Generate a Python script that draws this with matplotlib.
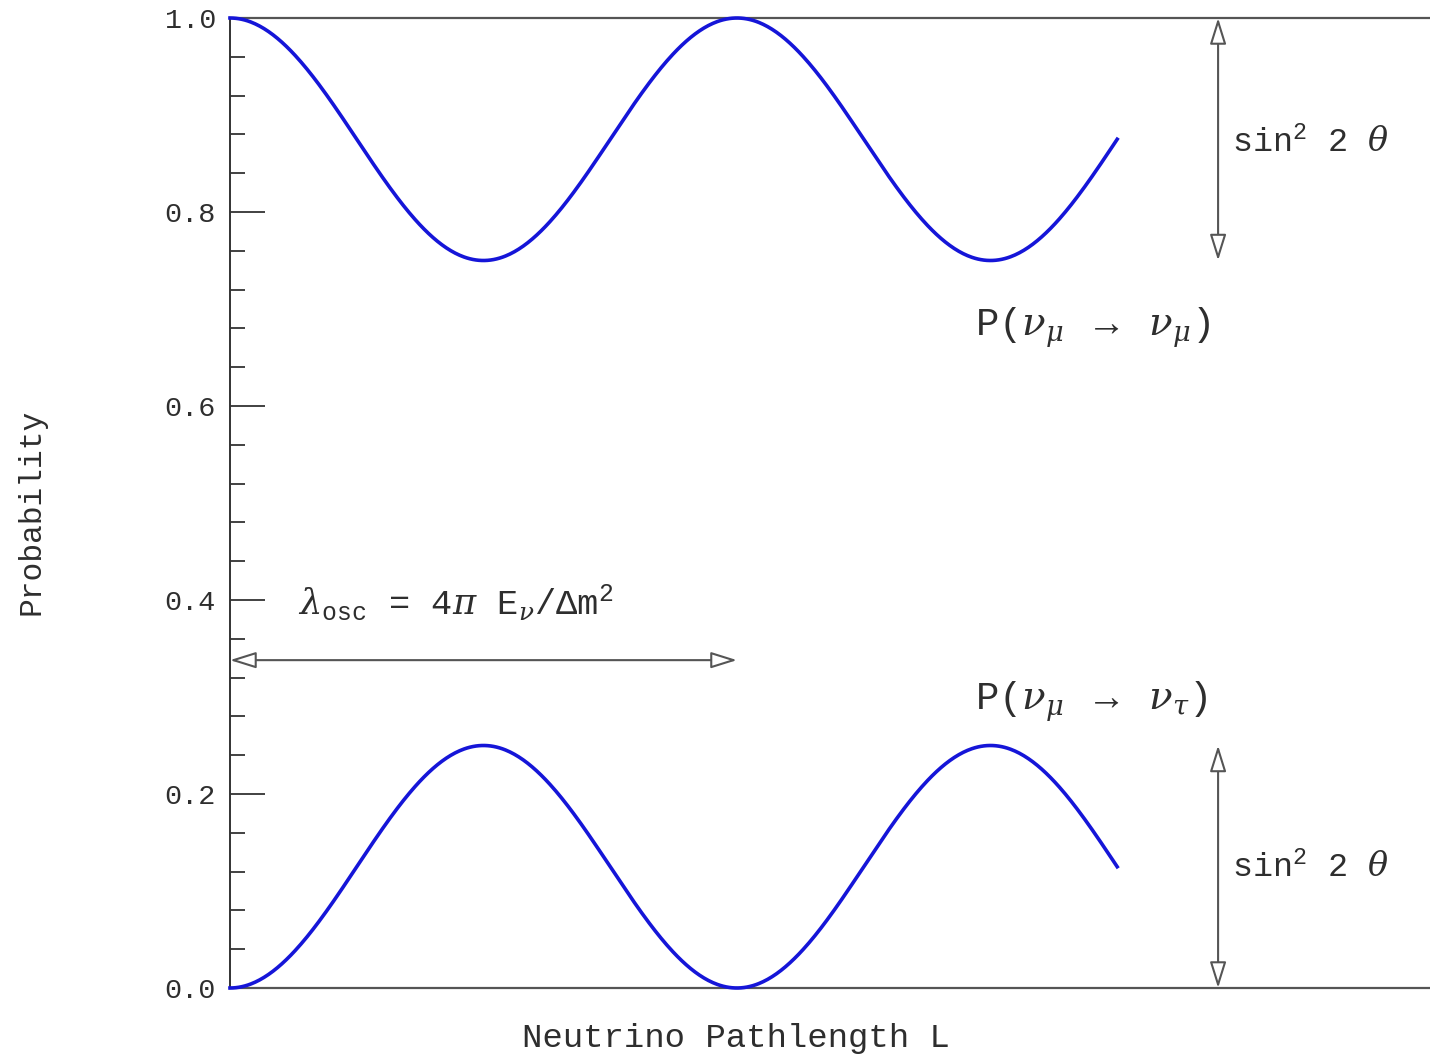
import numpy as np
import matplotlib.pyplot as plt
from matplotlib.ticker import MultipleLocator

# values
sin2_2theta = 0.25          # oscillation amplitude
lambda_osc = 1.0            # one oscillation length (x unit)
L_end = 1.75                # curves stop at 1.75 oscillation lengths
x_max = 2.367               # visible x range, in oscillation lengths
y_ticks = [0.0, 0.2, 0.4, 0.6, 0.8, 1.0]
y_tick_labels = ['0.0', '0.2', '0.4', '0.6', '0.8', '1.0']
arrow_x = 1.949             # x of the two vertical sin^2 2theta arrows
osc_arrow_y = 0.338         # y of the horizontal lambda_osc arrow

L = np.linspace(0, L_end, 600)
P_tau = sin2_2theta * np.sin(np.pi * L / lambda_osc) ** 2
P_mu = 1 - P_tau

plt.rcParams['font.family'] = ['Liberation Mono', 'DejaVu Serif']
plt.rcParams['mathtext.fontset'] = 'custom'
plt.rcParams['mathtext.rm'] = 'Liberation Mono'
plt.rcParams['mathtext.it'] = 'DejaVu Serif:italic'
plt.rcParams['mathtext.bf'] = 'Liberation Mono:bold'

text_col = '#2e2e2e'
line_col = '#555555'
blue = '#1515d8'

fig = plt.figure(figsize=(14.3, 10.61), dpi=100)
ax = fig.add_axes([230 / 1430, 73 / 1061, 1200 / 1430, 970 / 1061])

ax.plot(L, P_mu, color=blue, lw=2.6, clip_on=False, zorder=3)
ax.plot(L, P_tau, color=blue, lw=2.6, clip_on=False, zorder=3)

ax.set_xlim(0, x_max)
ax.set_ylim(0, 1)
ax.set_xticks([])
ax.set_yticks(y_ticks)
ax.set_yticklabels(y_tick_labels)
ax.yaxis.set_minor_locator(MultipleLocator(0.04))
ax.tick_params(axis='y', which='major', direction='in', length=25, width=1.3,
               color='#333333', labelsize=20.5, labelcolor=text_col, pad=10)
ax.tick_params(axis='y', which='minor', direction='in', length=11, width=1.3,
               color='#333333')

ax.spines['right'].set_visible(False)
ax.spines['left'].set_color('#333333')
ax.spines['left'].set_linewidth(1.4)
for s in ['top', 'bottom']:
    ax.spines[s].set_color(line_col)
    ax.spines[s].set_linewidth(1.6)

arrow = dict(arrowstyle='<|-|>,head_length=0.8,head_width=0.25',
             mutation_scale=20, color=line_col, lw=1.5, fc='white',
             shrinkA=0, shrinkB=0)

# sin^2 2theta arrows
ax.annotate('', xy=(arrow_x, 1.0), xytext=(arrow_x, 1 - sin2_2theta),
            arrowprops=arrow, annotation_clip=False)
ax.annotate('', xy=(arrow_x, sin2_2theta), xytext=(arrow_x, 0.0),
            arrowprops=arrow, annotation_clip=False)
sin_label = r'sin$^{2}$ 2 $\theta$'
ax.text(arrow_x + 0.027, 0.871, sin_label, fontsize=24,
        color=text_col, va='center', ha='left')
ax.text(arrow_x + 0.027, 0.124, sin_label, fontsize=24,
        color=text_col, va='center', ha='left')

# oscillation length arrow
ax.annotate('', xy=(0, osc_arrow_y), xytext=(lambda_osc, osc_arrow_y),
            arrowprops=arrow, annotation_clip=False)
ax.text(0.134, 0.397,
        r'$\lambda_{\rm osc}$ = 4$\pi$ E$_{\nu}$/$\Delta$m$^{2}$',
        fontsize=25.5, color=text_col, va='center', ha='left')

# curve labels
ax.text(1.469, 0.681, r'P($\nu_{\mu}$ $\rightarrow$ $\nu_{\mu}$)',
        fontsize=28, color=text_col, va='center', ha='left')
ax.text(1.469, 0.295, r'P($\nu_{\mu}$ $\rightarrow$ $\nu_{\tau}$)',
        fontsize=28, color=text_col, va='center', ha='left')

fig.text(32 / 1430, 1 - 512 / 1061, 'Probability', rotation=90, fontsize=22.5,
         color=text_col, ha='center', va='center')
fig.text(736 / 1430, 1 - 1039 / 1061, 'Neutrino Pathlength L', fontsize=24.5,
         color=text_col, ha='center', va='center')

fig.savefig('out.png', dpi=100)
